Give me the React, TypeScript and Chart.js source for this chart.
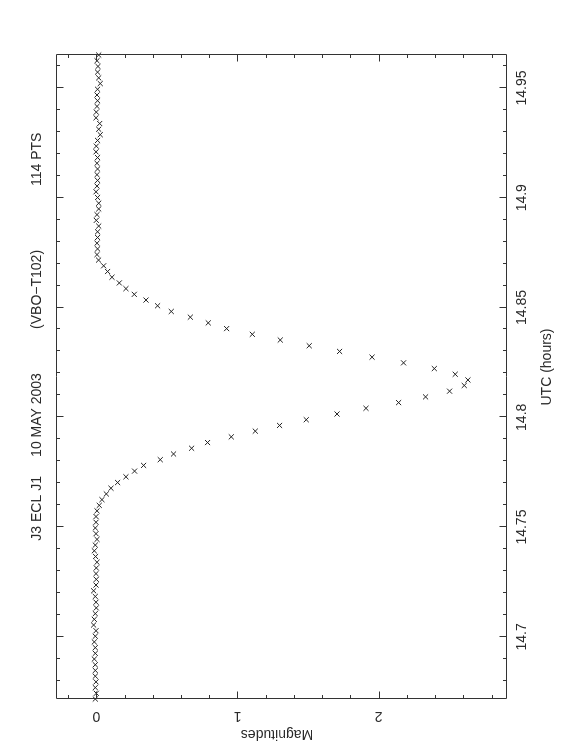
import React, { useEffect, useRef } from "react";
import { Chart, registerables } from "chart.js";

Chart.register(...registerables);

// UTC time of each observation (hours)
const utcHours: number[] = [
  14.6717, 14.6743, 14.6769, 14.6795, 14.6821, 14.6847, 14.6873, 14.6899, 14.6925, 14.6951,
  14.6977, 14.7003, 14.7028, 14.7054, 14.708, 14.7106, 14.7132, 14.7158, 14.7184, 14.721,
  14.7236, 14.7262, 14.7288, 14.7314, 14.734, 14.7366, 14.7392, 14.7418, 14.7444, 14.747,
  14.7496, 14.7522, 14.7548, 14.7574, 14.7599, 14.7625, 14.7651, 14.7677, 14.7703, 14.7729,
  14.7755, 14.7781, 14.7807, 14.7833, 14.7859, 14.7885, 14.7911, 14.7937, 14.7963, 14.7989,
  14.8015, 14.8041, 14.8067, 14.8093, 14.8119, 14.8145, 14.817, 14.8196, 14.8222, 14.8248,
  14.8274, 14.83, 14.8326, 14.8352, 14.8378, 14.8404, 14.843, 14.8456, 14.8482, 14.8508,
  14.8534, 14.856, 14.8586, 14.8612, 14.8638, 14.8664, 14.869, 14.8716, 14.8741, 14.8767,
  14.8793, 14.8819, 14.8845, 14.8871, 14.8897, 14.8923, 14.8949, 14.8975, 14.9001, 14.9027,
  14.9053, 14.9079, 14.9105, 14.9131, 14.9157, 14.9183, 14.9209, 14.9235, 14.9261, 14.9287,
  14.9312, 14.9338, 14.9364, 14.939, 14.9416, 14.9442, 14.9468, 14.9494, 14.952, 14.9546,
  14.9572, 14.9598, 14.9624, 14.965,
];

// Magnitudes (relative)
const magnitudes: number[] = [
  -0.007, 0.0, -0.007, -0.002, -0.007, -0.007, -0.007, -0.014, -0.007, -0.007,
  -0.014, -0.007, -0.002, -0.019, -0.014, -0.007, 0.0, -0.002, -0.007, -0.019,
  -0.002, 0.0, -0.002, 0.0, 0.005, -0.005, -0.014, -0.007, 0.005, -0.002,
  -0.007, -0.002, -0.002, 0.005, 0.021, 0.04, 0.071, 0.104, 0.151, 0.21,
  0.271, 0.335, 0.453, 0.547, 0.675, 0.788, 0.956, 1.126, 1.298, 1.487,
  1.705, 1.91, 2.141, 2.332, 2.502, 2.606, 2.632, 2.542, 2.394, 2.176,
  1.953, 1.723, 1.508, 1.303, 1.105, 0.923, 0.793, 0.666, 0.531, 0.434,
  0.352, 0.269, 0.21, 0.163, 0.111, 0.08, 0.052, 0.016, 0.005, 0.009,
  0.005, 0.009, 0.009, 0.017, 0.0, 0.005, 0.017, 0.017, 0.009, -0.002,
  0.005, 0.009, 0.005, 0.009, 0.005, 0.009, -0.002, 0.0, 0.009, 0.028,
  0.017, 0.024, -0.002, 0.0, 0.005, 0.009, 0.005, 0.009, 0.028, 0.017,
  0.009, 0.012, 0.005, 0.017,
];

const utcMajorTicks: number[] = [14.7, 14.75, 14.8, 14.85, 14.9, 14.95];
const utcTickLabels: string[] = ["14.7", "14.75", "14.8", "14.85", "14.9", "14.95"];
const magMajorTicks: number[] = [0, 1, 2];
const magTickLabels: string[] = ["0", "1", "2"];
const titleParts: string[] = ["J3 ECL J1", "10 MAY 2003", "(VBO\u2212T102)", "114 PTS"];
const xTitle = "UTC (hours)";
const yTitle = "Magnitudes";

const UTC_MIN = 14.6717;
const UTC_MAX = 14.965;
const MAG_MIN = -0.2854;
const MAG_MAX = 2.9016;

const FONT = '14px "Liberation Sans", Arial, sans-serif';
const INK = "#2a2a2a";

const framePlugin = {
  id: "pgplotFrame",
  afterDatasetsDraw(chart: any) {
    const ctx = chart.ctx as CanvasRenderingContext2D;
    const { left, right, top, bottom } = chart.chartArea;
    const xs = chart.scales.x;
    const ys = chart.scales.y;
    ctx.save();
    ctx.strokeStyle = "#333";
    ctx.lineWidth = 1;
    const L = Math.round(left) + 0.5;
    const R = Math.round(right) + 0.5;
    const T = Math.round(top) + 0.5;
    const B = Math.round(bottom) + 0.5;
    ctx.beginPath();
    ctx.rect(L, T, R - L, B - T);
    ctx.stroke();

    const major = 7;
    const minor = 3.5;
    ctx.beginPath();
    // UTC ticks (top and bottom), every 0.01 h, major every 0.05 h
    for (let k = 1468; k <= 1496; k++) {
      const v = k / 100;
      if (v > UTC_MAX || v < UTC_MIN) continue;
      const isMajor = k % 5 === 0;
      const len = isMajor ? major : minor;
      const px = Math.round(xs.getPixelForValue(v)) + 0.5;
      ctx.moveTo(px, B);
      ctx.lineTo(px, B - len);
      ctx.moveTo(px, T);
      ctx.lineTo(px, T + len);
    }
    // Magnitude ticks (left and right), every 0.2, major every 1
    for (let k = -1; k <= 14; k++) {
      const v = k / 5;
      if (v < MAG_MIN || v > MAG_MAX) continue;
      const isMajor = k % 5 === 0;
      const len = isMajor ? major : minor;
      const py = Math.round(ys.getPixelForValue(v)) + 0.5;
      ctx.moveTo(L, py);
      ctx.lineTo(L + len, py);
      ctx.moveTo(R, py);
      ctx.lineTo(R - len, py);
    }
    ctx.stroke();

    ctx.fillStyle = INK;
    ctx.font = FONT;
    ctx.textAlign = "center";
    ctx.textBaseline = "middle";
    utcMajorTicks.forEach((v, i) => {
      ctx.fillText(utcTickLabels[i], xs.getPixelForValue(v), 522);
    });
    ctx.fillText(xTitle, 389, 547);
    const titlePos = [0.296, 0.441, 0.636, 0.838];
    titleParts.forEach((t, i) => {
      ctx.fillText(t, left + (right - left) * titlePos[i], 37);
    });
    magMajorTicks.forEach((v, i) => {
      ctx.save();
      ctx.translate(40, ys.getPixelForValue(v));
      ctx.rotate(-Math.PI / 2);
      ctx.fillText(magTickLabels[i], 0, 0);
      ctx.restore();
    });
    ctx.save();
    ctx.translate(22, 277);
    ctx.rotate(-Math.PI / 2);
    ctx.fillText(yTitle, 0, 0);
    ctx.restore();
    ctx.restore();
  },
};

export default function App() {
  const ref = useRef<HTMLCanvasElement | null>(null);
  useEffect(() => {
    if (!ref.current) return;
    const points = utcHours.map((t, i) => ({ x: t, y: magnitudes[i] }));
    const chart = new Chart(ref.current, {
      type: "scatter",
      data: {
        datasets: [
          {
            data: points,
            pointStyle: "crossRot",
            pointRadius: 3.6,
            pointHoverRadius: 3.6,
            borderColor: "#222",
            backgroundColor: "#222",
            borderWidth: 1,
            clip: false as any,
            showLine: false,
          },
        ],
      },
      options: {
        animation: false,
        responsive: false,
        maintainAspectRatio: false,
        events: [],
        layout: { padding: { left: 57, right: 55, top: 56, bottom: 56 } },
        plugins: { legend: { display: false }, tooltip: { enabled: false }, title: { display: false } },
        scales: {
          x: { type: "linear", min: UTC_MIN, max: UTC_MAX, display: false },
          y: { type: "linear", min: MAG_MIN, max: MAG_MAX, reverse: true, display: false },
        },
      },
      plugins: [framePlugin],
    });
    return () => chart.destroy();
  }, []);

  return (
    <div
      style={{
        position: "fixed",
        left: 0,
        top: 0,
        width: 562,
        height: 756,
        overflow: "hidden",
        background: "#fff",
      }}
    >
      <canvas
        ref={ref}
        width={756}
        height={562}
        style={{
          position: "absolute",
          left: -97,
          top: 97,
          width: 756,
          height: 562,
          transform: "rotate(-90deg)",
          transformOrigin: "50% 50%",
        }}
      />
    </div>
  );
}
